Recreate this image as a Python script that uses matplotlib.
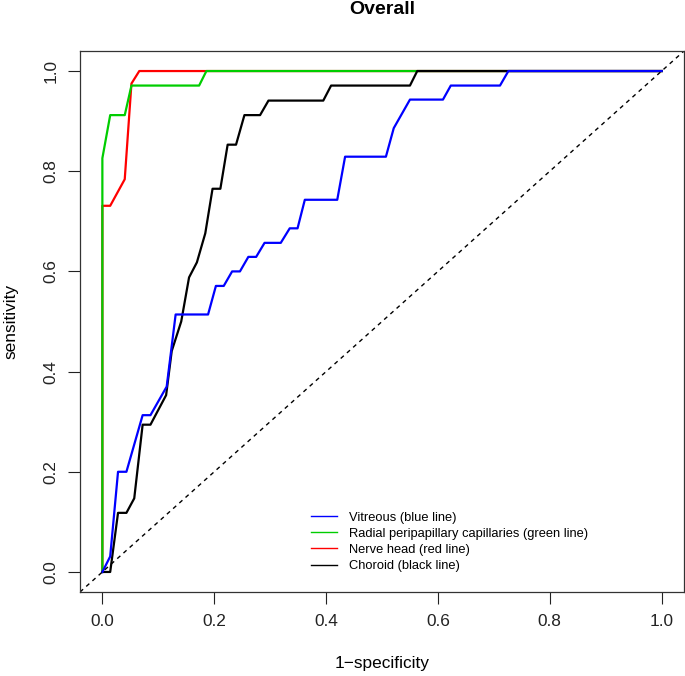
import matplotlib
matplotlib.use('Agg')
import matplotlib.pyplot as plt
from matplotlib.lines import Line2D

plt.rcParams['font.family'] = ['Liberation Sans', 'DejaVu Sans']

# ROC curves: (1-specificity, sensitivity)
vitreous_fpr = [0, 0.014, 0.028, 0.043, 0.072, 0.086, 0.115, 0.131, 0.189, 0.203, 0.217, 0.232, 0.246,
                0.261, 0.275, 0.290, 0.319, 0.335, 0.349, 0.362, 0.420, 0.434, 0.507, 0.521, 0.550,
                0.609, 0.623, 0.711, 0.726, 1.0]
vitreous_sens = [0, 0.031, 0.200, 0.200, 0.313, 0.313, 0.370, 0.514, 0.514, 0.571, 0.571, 0.600, 0.600,
                 0.629, 0.629, 0.657, 0.657, 0.686, 0.686, 0.743, 0.743, 0.829, 0.829, 0.886, 0.943,
                 0.943, 0.971, 0.971, 1.0, 1.0]

rpc_fpr = [0, 0, 0.014, 0.040, 0.052, 0.173, 0.186, 1.0]
rpc_sens = [0, 0.826, 0.912, 0.912, 0.971, 0.971, 1.0, 1.0]

nerve_fpr = [0, 0, 0.014, 0.040, 0.052, 0.066, 1.0]
nerve_sens = [0, 0.731, 0.731, 0.784, 0.975, 1.0, 1.0]

choroid_fpr = [0, 0.014, 0.028, 0.043, 0.057, 0.072, 0.086, 0.114, 0.124, 0.141, 0.155, 0.169, 0.184,
               0.197, 0.211, 0.224, 0.239, 0.254, 0.282, 0.297, 0.395, 0.409, 0.550, 0.563, 1.0]
choroid_sens = [0, 0, 0.118, 0.118, 0.147, 0.294, 0.294, 0.353, 0.441, 0.500, 0.588, 0.618, 0.676,
                0.765, 0.765, 0.853, 0.853, 0.912, 0.912, 0.941, 0.941, 0.971, 0.971, 1.0, 1.0]

labels = ["Vitreous (blue line)", "Radial peripapillary capillaries (green line)",
          "Nerve head (red line)", "Choroid (black line)"]
colors = ["#0000FF", "#00CD00", "#FF0000", "#000000"]
ticks = [0.0, 0.2, 0.4, 0.6, 0.8, 1.0]

fig = plt.figure(figsize=(6.85, 6.76), dpi=100)
ax = fig.add_axes([80 / 685, 1 - 592 / 676, 604 / 685, 541 / 676])

# drawing order: red under green, blue on top of black
ax.plot(nerve_fpr, nerve_sens, color=colors[2], lw=1.6)
ax.plot(rpc_fpr, rpc_sens, color=colors[1], lw=1.6)
ax.plot(choroid_fpr, choroid_sens, color=colors[3], lw=1.6)
ax.plot(vitreous_fpr, vitreous_sens, color=colors[0], lw=1.6)

# chance line
ax.axline((0, 0), (1, 1), color='black', lw=1, ls=(0, (3, 3)))

ax.set_xlim(-0.04, 1.04)
ax.set_ylim(-0.04, 1.04)
ax.set_xticks(ticks)
ax.set_yticks(ticks)
ax.set_xticklabels([f"{t:.1f}" for t in ticks], fontsize=12.4)
ax.set_yticklabels([f"{t:.1f}" for t in ticks], fontsize=12.4, rotation=90, va='center')
ax.tick_params(length=8.5, width=0.8, pad=7, colors='#222222')
for s in ax.spines.values():
    s.set_linewidth(0.9)
    s.set_color('#333333')

ax.set_xlabel("1\u2212specificity", fontsize=12.4, labelpad=20)
ax.set_ylabel("sensitivity", fontsize=12.4, labelpad=18)
fig.text(382 / 685, 1 - 10 / 676, "Overall", ha='center', va='center', fontsize=14, fontweight='bold')

handles = [Line2D([], [], color=c, lw=1) for c in colors]
ax.legend(handles, labels, loc='upper left', bbox_to_anchor=(305 / 685, 1 - 505 / 676),
          bbox_transform=fig.transFigure, frameon=False, fontsize=9.3,
          handlelength=2.0, handletextpad=0.9, labelspacing=0.32, borderpad=0)

fig.savefig("out.png", dpi=100)
